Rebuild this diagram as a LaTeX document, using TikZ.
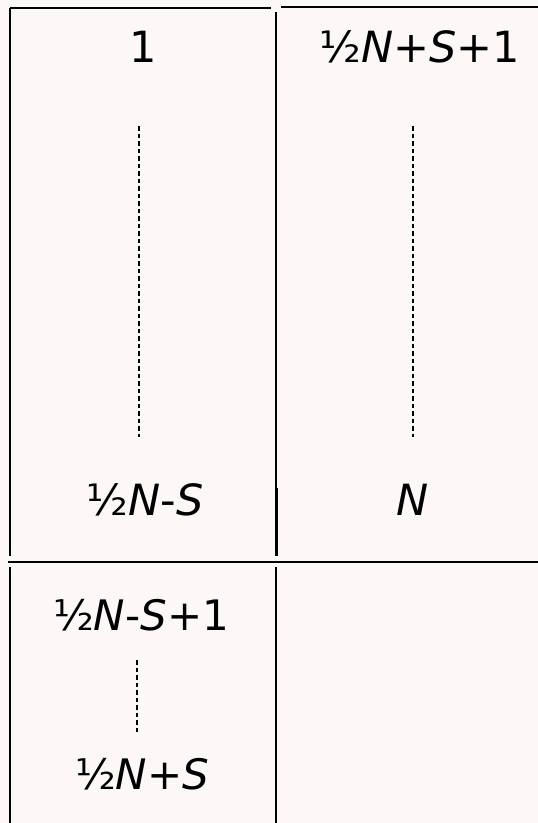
\documentclass[tikz,border=0pt]{standalone}
\usepackage{fontspec}
\setmainfont{DejaVu Sans}
\definecolor{bgc}{HTML}{FCF8F7}
\begin{document}
\begin{tikzpicture}[x=1pt,y=-1pt,
  frame/.style={line width=2.7pt,black},
  dots/.style={line width=1.8pt,dash pattern=on 4.5pt off 3pt},
  bigtxt/.style={anchor=base,inner sep=0pt,font=\fontsize{43}{47}\selectfont},
  smalltxt/.style={anchor=base,inner sep=0pt,font=\fontsize{42}{46}\selectfont}]
\fill[bgc] (0,0) rectangle (538,823);
\useasboundingbox (0,0) rectangle (538,823);
% frame
\draw[frame] (10,8) -- (271,8);
\draw[frame] (281,7) -- (538,7);
\draw[frame] (10,8) -- (10,556);
\draw[frame] (10,567) -- (10,823);
\draw[frame] (276,12) -- (276,556);
\draw[line width=2pt] (277,488) -- (277,556);
\draw[frame] (276,567) -- (276,823);
\draw[frame] (8,562) -- (538,562);
% texts
\node[bigtxt] (a1) at (143,62) {1};
\node[bigtxt] (b1) at (420,62) {½\textit{N}+\textit{S}+1};
\node[bigtxt] (a2) at (145,515) {½\textit{N}-\textit{S}};
\node[bigtxt] (b2) at (413,515) {\textit{N}};
\node[smalltxt] (c1) at (141,630) {½\textit{N}-\textit{S}+1};
\node[smalltxt] (c2) at (142,789) {½\textit{N}+\textit{S}};
% dashed connectors
\coordinate (a1d) at (139,126);
\coordinate (a2d) at (139,437);
\coordinate (b1d) at (413,126);
\coordinate (b2d) at (413,437);
\coordinate (c1d) at (137,660);
\coordinate (c2d) at (137,733);
\draw[dots] (a1d) -- (a2d);
\draw[dots] (b1d) -- (b2d);
\draw[dots] (c1d) -- (c2d);
\end{tikzpicture}
\end{document}
